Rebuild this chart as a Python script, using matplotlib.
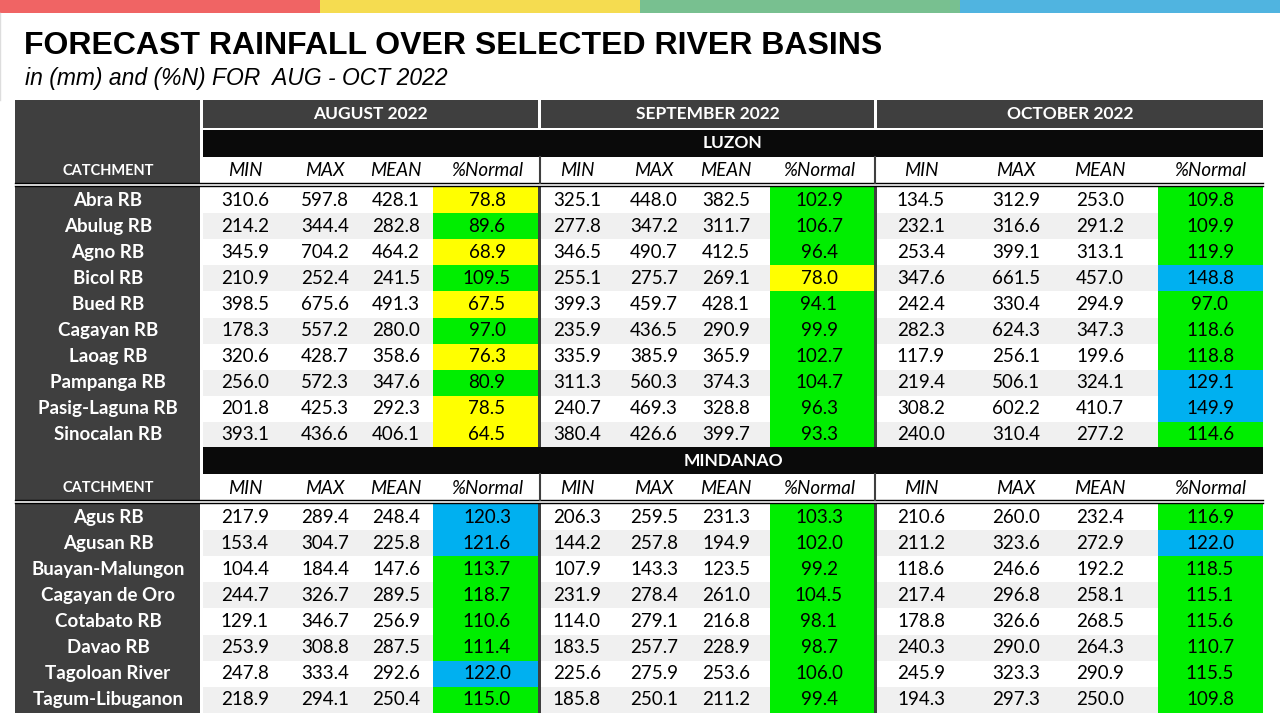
import matplotlib
matplotlib.use("Agg")
import matplotlib.pyplot as plt
from matplotlib.patches import Rectangle

months = ["AUGUST 2022", "SEPTEMBER 2022", "OCTOBER 2022"]
sub_cols = ["MIN", "MAX", "MEAN", "%Normal"]

luzon_names = ["Abra RB", "Abulug RB", "Agno RB", "Bicol RB", "Bued RB", "Cagayan RB",
               "Laoag RB", "Pampanga RB", "Pasig-Laguna RB", "Sinocalan RB"]
luzon_aug = [[310.6, 597.8, 428.1, 78.8], [214.2, 344.4, 282.8, 89.6], [345.9, 704.2, 464.2, 68.9],
             [210.9, 252.4, 241.5, 109.5], [398.5, 675.6, 491.3, 67.5], [178.3, 557.2, 280.0, 97.0],
             [320.6, 428.7, 358.6, 76.3], [256.0, 572.3, 347.6, 80.9], [201.8, 425.3, 292.3, 78.5],
             [393.1, 436.6, 406.1, 64.5]]
luzon_sep = [[325.1, 448.0, 382.5, 102.9], [277.8, 347.2, 311.7, 106.7], [346.5, 490.7, 412.5, 96.4],
             [255.1, 275.7, 269.1, 78.0], [399.3, 459.7, 428.1, 94.1], [235.9, 436.5, 290.9, 99.9],
             [335.9, 385.9, 365.9, 102.7], [311.3, 560.3, 374.3, 104.7], [240.7, 469.3, 328.8, 96.3],
             [380.4, 426.6, 399.7, 93.3]]
luzon_oct = [[134.5, 312.9, 253.0, 109.8], [232.1, 316.6, 291.2, 109.9], [253.4, 399.1, 313.1, 119.9],
             [347.6, 661.5, 457.0, 148.8], [242.4, 330.4, 294.9, 97.0], [282.3, 624.3, 347.3, 118.6],
             [117.9, 256.1, 199.6, 118.8], [219.4, 506.1, 324.1, 129.1], [308.2, 602.2, 410.7, 149.9],
             [240.0, 310.4, 277.2, 114.6]]

mind_names = ["Agus RB", "Agusan RB", "Buayan-Malungon", "Cagayan de Oro", "Cotabato RB",
              "Davao RB", "Tagoloan River", "Tagum-Libuganon"]
mind_aug = [[217.9, 289.4, 248.4, 120.3], [153.4, 304.7, 225.8, 121.6], [104.4, 184.4, 147.6, 113.7],
            [244.7, 326.7, 289.5, 118.7], [129.1, 346.7, 256.9, 110.6], [253.9, 308.8, 287.5, 111.4],
            [247.8, 333.4, 292.6, 122.0], [218.9, 294.1, 250.4, 115.0]]
mind_sep = [[206.3, 259.5, 231.3, 103.3], [144.2, 257.8, 194.9, 102.0], [107.9, 143.3, 123.5, 99.2],
            [231.9, 278.4, 261.0, 104.5], [114.0, 279.1, 216.8, 98.1], [183.5, 257.7, 228.9, 98.7],
            [225.6, 275.9, 253.6, 106.0], [185.8, 250.1, 211.2, 99.4]]
mind_oct = [[210.6, 260.0, 232.4, 116.9], [211.2, 323.6, 272.9, 122.0], [118.6, 246.6, 192.2, 118.5],
            [217.4, 296.8, 258.1, 115.1], [178.8, 326.6, 268.5, 115.6], [240.3, 290.0, 264.3, 110.7],
            [245.9, 323.3, 290.9, 115.5], [194.3, 297.3, 250.0, 109.8]]

def pct_color(v):
    if v < 80:
        return "#ffff00"
    if v < 120:
        return "#00ee00"
    return "#00b0f0"

fig = plt.figure(figsize=(12.8, 7.2), dpi=100)
ax = fig.add_axes([0, 0, 1, 1])
ax.set_xlim(0, 1280); ax.set_ylim(720, 0); ax.axis("off")

def rect(x0, y0, x1, y1, c, **kw):
    ax.add_patch(Rectangle((x0, y0), x1 - x0, y1 - y0, facecolor=c, edgecolor="none", **kw))

# top colour strip
for i, c in enumerate(["#f06464", "#f5dc50", "#78c090", "#50b4e0"]):
    rect(i * 320, 0, (i + 1) * 320, 13, c)
ax.plot([0, 0], [13, 100], color="#dddddd", lw=1)

ax.text(24, 46, "FORECAST RAINFALL OVER SELECTED RIVER BASINS", fontsize=23, fontweight="bold",
        family="Liberation Sans", va="center", ha="left")
ax.text(25, 78, "in (mm) and (%N) FOR  AUG - OCT 2022", fontsize=16.5, style="italic",
        family="Liberation Sans", va="center", ha="left")

TF = "Lato"
month_x = [(203, 538), (541, 874), (877, 1263)]
cx = [[245, 325, 396, 487], [577, 654, 726, 819], [921, 1016, 1100, 1210]]
pct_cell = [(433, 538), (770, 874), (1158, 1263)]

# header
rect(15, 100, 200, 183, "#3f3f3f")
for (a, b), m in zip(month_x, months):
    rect(a, 100, b, 128, "#3f3f3f")
    ax.text((a + b) / 2, 114, m, color="white", fontsize=12.5, fontweight="bold", family=TF,
            ha="center", va="center")

def section(label, y_bar, names, data_months):
    rect(203, y_bar, 1263, y_bar + 27, "#0a0a0a")
    ax.text(733, y_bar + 13.5, label, color="white", fontsize=12.5, fontweight="bold", family=TF,
            ha="center", va="center")
    ys = y_bar + 27
    rect(15, y_bar, 200, ys + 26, "#3f3f3f")
    ax.text(108, ys + 14, "CATCHMENT", color="white", fontsize=10.5, fontweight="bold", family=TF,
            ha="center", va="center")
    for m in range(3):
        for j, s in enumerate(sub_cols):
            ax.text(cx[m][j], ys + 14, s, fontsize=13.5, style="italic", family=TF,
                    ha="center", va="center")
    ax.plot([15, 1263], [ys + 26, ys + 26], color="black", lw=1)
    ax.plot([15, 1263], [ys + 28.5, ys + 28.5], color="black", lw=1)
    y0 = ys + 30
    h = 26.1
    rect(15, y0, 200, y0 + h * len(names), "#3f3f3f")
    for i, name in enumerate(names):
        top = y0 + i * h
        yc = top + h / 2
        bg = "white" if i % 2 == 0 else "#f0f0f0"
        rect(203, top, 1263, top + h, bg)
        ax.text(108, yc, name, color="white", fontsize=13.5, fontweight="bold", family=TF,
                ha="center", va="center")
        for m in range(3):
            row = data_months[m][i]
            a, b = pct_cell[m]
            rect(a, top, b, top + h, pct_color(row[3]))
            for j in range(4):
                ax.text(cx[m][j], yc, f"{row[j]:.1f}", fontsize=13.5, family=TF,
                        ha="center", va="center")
    yend = y0 + h * len(names)
    for xs in (541, 877):
        rect(xs - 3, y0, xs, yend, "#3f3f3f")
    for xs in (540, 875):
        ax.plot([xs, xs], [ys, ys + 26], color="#3f3f3f", lw=1.5)
    return yend

section("LUZON", 130, luzon_names, [luzon_aug, luzon_sep, luzon_oct])
section("MINDANAO", 447, mind_names, [mind_aug, mind_sep, mind_oct])

fig.savefig("out.png", dpi=100)
